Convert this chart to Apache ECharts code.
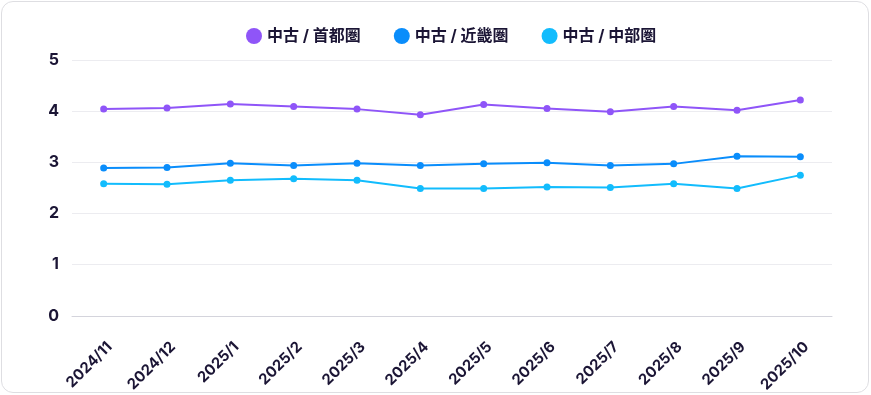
<!DOCTYPE html>
<html>
<head>
<meta charset="utf-8">
<script src="https://cdn.jsdelivr.net/npm/echarts@6/dist/echarts.min.js"></script>
<style>
html,body{margin:0;padding:0;background:#fff;}
#wrap{position:relative;width:871px;height:395px;}
#chart{position:absolute;left:0;top:0;width:871px;height:395px;}
#frame{position:absolute;left:1px;top:1px;width:868px;height:392px;box-sizing:border-box;border:1.5px solid #dedee2;border-radius:12px;pointer-events:none;}
</style>
</head>
<body>
<div id="wrap"><div id="chart"></div><div id="frame"></div></div>
<script>
const categories = ['2024/11','2024/12','2025/1','2025/2','2025/3','2025/4','2025/5','2025/6','2025/7','2025/8','2025/9','2025/10'];
const seriesNames = ['中古 / 首都圏','中古 / 近畿圏','中古 / 中部圏'];
const shutoken = [4.04,4.06,4.14,4.09,4.04,3.93,4.13,4.05,3.99,4.09,4.02,4.22];
const kinki    = [2.89,2.90,2.98,2.94,2.98,2.94,2.97,2.99,2.94,2.97,3.12,3.11];
const chubu    = [2.58,2.57,2.65,2.68,2.65,2.49,2.49,2.52,2.51,2.58,2.49,2.75];
const colors = ['#8f55f8','#0a8dfb','#12bcfd'];
const textColor = '#1b1535';
const font = 'Inter, "Noto Sans CJK JP", sans-serif';

const chart = echarts.init(document.getElementById('chart'));
const mk = (name, data, c) => ({
  name, type:'line', data,
  symbol:'circle', symbolSize:7, showSymbol:true,
  lineStyle:{width:2, color:c}, itemStyle:{color:c},
  emphasis:{disabled:true}
});
chart.setOption({
  animation:false,
  textStyle:{fontFamily:font},
  legend:{
    top:23, left:241, itemGap:33, itemWidth:16, itemHeight:16, icon:'circle',
    textStyle:{color:textColor, fontSize:16, fontWeight:'bold', fontFamily:font},
    data:seriesNames
  },
  grid:{left:72, right:39, top:60, bottom:78},
  xAxis:[{
    type:'category', data:categories, boundaryGap:true,
    axisLine:{show:true, lineStyle:{color:'#d4d4dc', width:1}},
    axisTick:{show:false},
    axisLabel:{show:false}
  },{
    type:'category', data:categories, boundaryGap:true, position:'bottom', offset:16,
    axisLine:{show:false}, axisTick:{show:false}, splitLine:{show:false},
    axisLabel:{rotate:45, color:textColor, fontSize:15, fontWeight:'bold', fontFamily:font, margin:8, verticalAlign:'top', padding:[0,-1,0,0], interval:0}
  }],
  yAxis:{
    type:'value', min:0, max:5, interval:1,
    axisLine:{show:false}, axisTick:{show:false},
    splitLine:{lineStyle:{color:'#ececf0', width:1}},
    axisLabel:{color:textColor, fontSize:16, fontWeight:'bold', fontFamily:font, margin:13}
  },
  series:[mk(seriesNames[0], shutoken, colors[0]), mk(seriesNames[1], kinki, colors[1]), mk(seriesNames[2], chubu, colors[2])]
});
</script>
</body>
</html>
